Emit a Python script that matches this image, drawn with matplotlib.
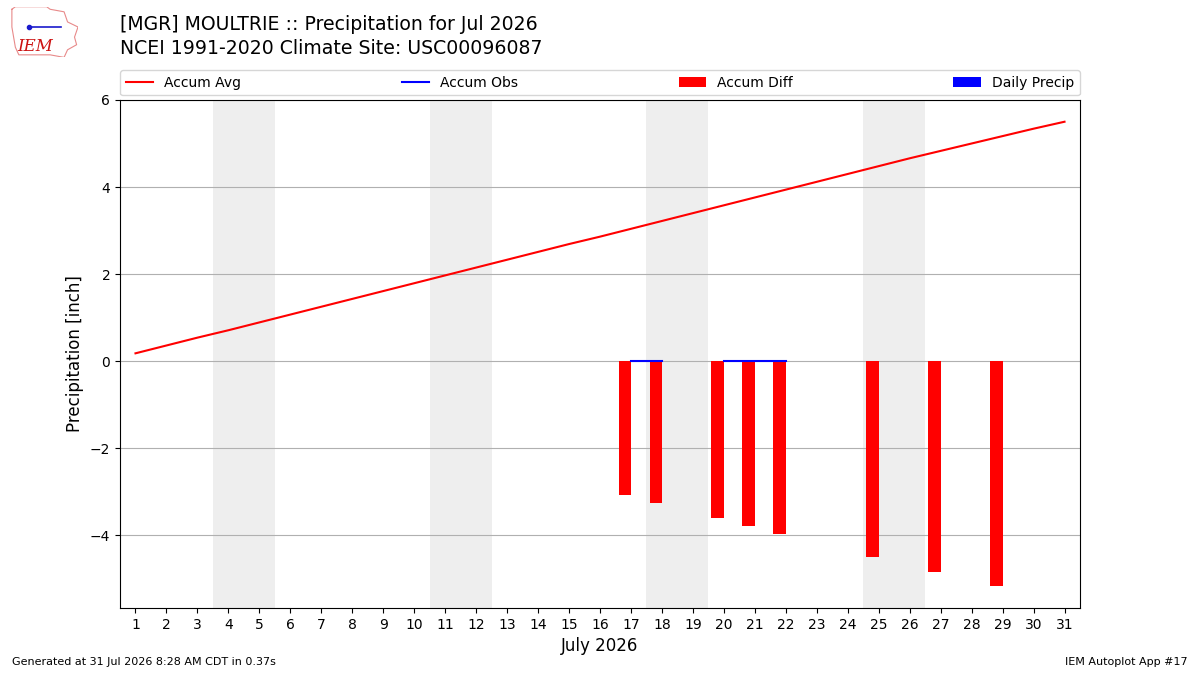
import matplotlib
matplotlib.use("Agg")
import matplotlib.pyplot as plt

days = list(range(1, 32))
accum_avg = [0.18, 0.36, 0.54, 0.71, 0.89, 1.07, 1.25, 1.43, 1.61, 1.79,
             1.97, 2.15, 2.33, 2.51, 2.69, 2.86, 3.04, 3.22, 3.40, 3.58,
             3.76, 3.94, 4.12, 4.30, 4.48, 4.66, 4.83, 5.00, 5.17, 5.34, 5.50]
obs_days = [17, 18, 20, 21, 22, 25, 27, 29]
accum_obs = [0.0, 0.0, 0.0, 0.0, 0.0, 0.0, 0.0, 0.0]
accum_diff = [-3.07, -3.26, -3.60, -3.78, -3.97, -4.50, -4.84, -5.16]
daily_precip = [0.0, 0.0, 0.0, 0.0, 0.0, 0.0, 0.0, 0.0]
weekends = [4, 11, 18, 25]
xticks = list(range(1, 32))

fig = plt.figure(figsize=(12, 6.75), dpi=100)
ax = fig.add_axes([0.1, 0.0993, 0.8, 0.7526])

for w in weekends:
    ax.axvspan(w - 0.5, w + 1.5, color="#eeeeee", zorder=0, lw=0)

ax.plot(days, accum_avg, color="red", lw=1.5, label="Accum Avg", zorder=3)
segs = []
cur_x, cur_y = [obs_days[0]], [accum_obs[0]]
for d, v in zip(obs_days[1:], accum_obs[1:]):
    if d == cur_x[-1] + 1:
        cur_x.append(d); cur_y.append(v)
    else:
        segs.append((cur_x, cur_y)); cur_x, cur_y = [d], [v]
segs.append((cur_x, cur_y))
for i, (sx, sy) in enumerate(segs):
    ax.plot(sx, sy, color="blue", lw=1.5, zorder=4,
            label="Accum Obs" if i == 0 else None)
ax.bar(obs_days, accum_diff, width=-0.4, align="edge", color="red",
       label="Accum Diff", zorder=2)
ax.bar(obs_days, daily_precip, width=0.4, align="edge", color="blue",
       label="Daily Precip", zorder=2)

ax.set_xlim(0.5, 31.5)
ax.set_ylim(-5.67, 6)
ax.set_xticks(xticks)
ax.set_yticks([-4, -2, 0, 2, 4, 6])
ax.set_yticklabels(["\u22124", "\u22122", "0", "2", "4", "6"])
ax.grid(axis="y", color="#b0b0b0", lw=0.8, zorder=1)
ax.set_axisbelow(True)
ax.tick_params(labelsize=10)
ax.set_xlabel("July 2026", fontsize=12)
ax.set_ylabel("Precipitation [inch]", fontsize=12)

ax.legend(loc="lower left", bbox_to_anchor=(0, 1.009, 1, 0.05), ncol=4,
          mode="expand", fontsize=10, borderaxespad=0, frameon=True)

fig.text(0.1, 0.963, "[MGR] MOULTRIE :: Precipitation for Jul 2026", fontsize=13.6,
         va="center", ha="left")
fig.text(0.1, 0.928, "NCEI 1991-2020 Climate Site: USC00096087", fontsize=13.6,
         va="center", ha="left")

# simple logo approximation
lax = fig.add_axes([0.007, 0.915, 0.058, 0.075])
lax.set_xlim(0, 1); lax.set_ylim(0, 1); lax.axis("off")
lax.plot([0.05, 0.1, 0.55, 0.6, 0.8, 0.85, 1.0, 0.95, 0.98, 0.85, 0.8, 0.6, 0.15, 0.1, 0.05, 0.05],
         [0.95, 1.0, 1.0, 0.95, 0.9, 0.7, 0.6, 0.4, 0.25, 0.15, 0.0, 0.05, 0.05, 0.2, 0.6, 0.95],
         color="#e88a8a", lw=0.8)
lax.plot([0.3, 0.75], [0.6, 0.6], color="#1a1acc", lw=1.2)
lax.plot([0.3], [0.6], "o", color="#1a1acc", ms=3)
lax.text(0.38, 0.22, "IEM", fontsize=12, color="#cc1111", style="italic",
         family="DejaVu Serif", ha="center", va="center")

fig.text(0.01, 0.015, "Generated at 31 Jul 2026 8:28 AM CDT in 0.37s", fontsize=8)
fig.text(0.99, 0.015, "IEM Autoplot App #17", fontsize=8, ha="right")

fig.savefig("out.png", dpi=100)
